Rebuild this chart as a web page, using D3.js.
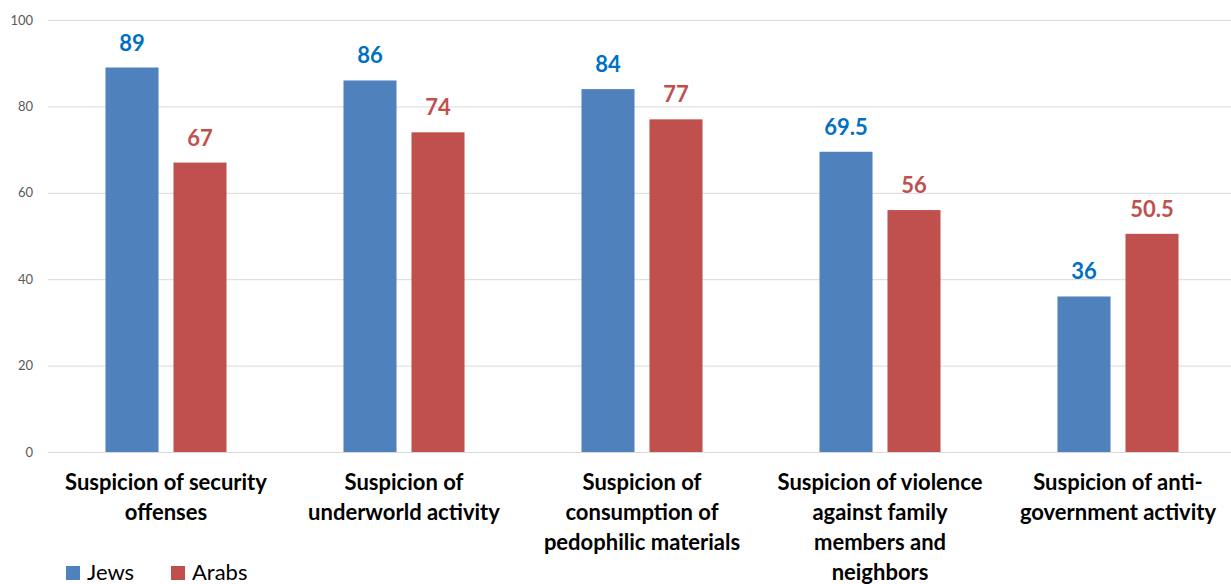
<!DOCTYPE html>
<html><head><meta charset="utf-8">
<script src="https://cdn.jsdelivr.net/npm/d3@7/dist/d3.min.js"></script>
<style>body{margin:0;background:#fff;} svg{display:block;}</style>
</head><body>
<svg id="c" width="1231" height="584"></svg>
<script>
const categories = [
  ["Suspicion of security","offenses"],
  ["Suspicion of","underworld activity"],
  ["Suspicion of","consumption of","pedophilic materials"],
  ["Suspicion of violence","against family","members and","neighbors"],
  ["Suspicion of anti-","government activity"]
];
const seriesNames = ["Jews","Arabs"];
const jews = [89, 86, 84, 69.5, 36];
const arabs = [67, 74, 77, 56, 50.5];
const yTicks = [0,20,40,60,80,100];
const barColors = ["#4F81BD","#C0504D"];
const labelColors = ["#0070C0","#C0504D"];

const svg = d3.select("#c");
const font = "Lato, 'Open Sans', sans-serif";
const x = d3.scaleBand().domain(d3.range(categories.length)).range([47, 1237]).paddingInner(0).paddingOuter(0);
const y = d3.scaleLinear().domain([0,100]).range([452, 20]);
const xs = d3.scaleBand().domain([0,1]).range([0, x.bandwidth()]).paddingInner(0.22).paddingOuter(0.86);

// grid
svg.append("g").selectAll("line").data(yTicks).join("line")
  .attr("x1", 48).attr("x2", 1231)
  .attr("y1", d=>y(d)+0.5).attr("y2", d=>y(d)+0.5)
  .attr("stroke", "#D9D9D9").attr("stroke-width", 1);

const yAxis = d3.axisLeft(y).tickValues(yTicks).tickSize(0).tickPadding(0);
const ga = svg.append("g").attr("transform","translate(33,0)").call(yAxis);
ga.select(".domain").remove();
ga.selectAll("text").attr("font-family", font).attr("font-size", 13).attr("fill","#595959");

const series = [jews, arabs];
series.forEach((vals, si) => {
  const g = svg.append("g");
  g.selectAll("rect").data(vals).join("rect")
    .attr("x", (d,i)=>x(i)+xs(si))
    .attr("width", xs.bandwidth())
    .attr("y", d=>y(d))
    .attr("height", d=>y(0)-y(d))
    .attr("fill", barColors[si]);
  g.selectAll("text").data(vals).join("text")
    .attr("x", (d,i)=>x(i)+xs(si)+xs.bandwidth()/2)
    .attr("y", d=>y(d)-17)
    .attr("text-anchor","middle")
    .attr("font-family", font).attr("font-weight","bold").attr("font-size", 22)
    .attr("fill", labelColors[si])
    .text(d=>d);
});

// category labels
const cl = svg.append("g");
categories.forEach((lines, i) => {
  const t = cl.append("text")
    .attr("x", x(i)+x.bandwidth()/2).attr("y", 490)
    .attr("text-anchor","middle")
    .attr("font-family", font).attr("font-weight","bold").attr("font-size", 22)
    .attr("fill","#000");
  lines.forEach((ln, k) => {
    t.append("tspan").attr("x", x(i)+x.bandwidth()/2).attr("dy", k===0?0:30).text(ln);
  });
});

// legend
const lg = svg.append("g");
const legX = [66, 171];
seriesNames.forEach((n, i) => {
  lg.append("rect").attr("x", legX[i]).attr("y", 566).attr("width", 14).attr("height", 14).attr("fill", barColors[i]);
  lg.append("text").attr("x", legX[i]+21).attr("y", 580)
    .attr("font-family", font).attr("font-size", 22).attr("fill","#000").text(n);
});
</script>
</body></html>
